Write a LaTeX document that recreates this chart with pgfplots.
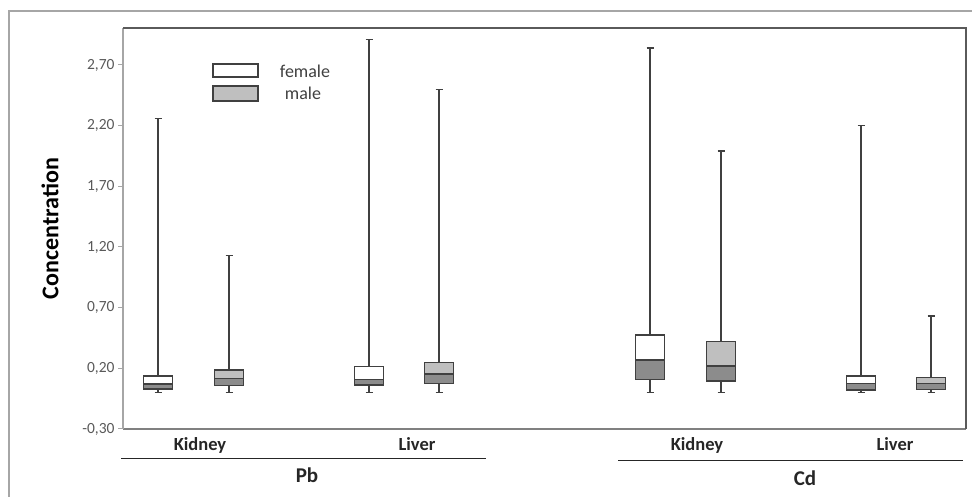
\documentclass[border=0pt]{standalone}
\usepackage{pgfplots}
\pgfplotsset{compat=1.18}
\usepgfplotslibrary{statistics}
\usepackage{fontspec}
\setmainfont{Carlito}
\definecolor{boxline}{HTML}{404040}
\definecolor{lowfill}{HTML}{8C8C8C}
\definecolor{malefill}{HTML}{BFBFBF}
\definecolor{ticklab}{HTML}{595959}
\definecolor{axgray}{HTML}{A6A6A6}
\definecolor{framegray}{HTML}{5A5A5A}
\begin{document}
\begin{tikzpicture}
\path[use as bounding box] (0pt,0pt) rectangle (972pt,497pt);
\draw[color=axgray, line width=1.2pt] (9pt,-5pt) -- (9pt,486pt) -- (980pt,486pt);
\begin{axis}[
  at={(123pt,68pt)}, anchor=south west, scale only axis,
  width=843pt, height=401pt,
  xmin=1.23, xmax=9.66, ymin=-0.3, ymax=3.005,
  axis x line*=bottom, axis y line*=left,
  x axis line style={draw=gray, line width=1.2pt, -},
  y axis line style={draw=axgray, line width=1.2pt, -},
  clip=false,
  ytick={-0.3,0.2,0.7,1.2,1.7,2.2,2.7},
  yticklabel style={/pgf/number format/.cd, fixed, fixed zerofill, precision=2, use comma, assume math mode=true,
    /tikz/.cd, font=\fontsize{15.5}{18}\selectfont, text=ticklab},
  ytick style={draw=axgray, line width=1pt},
  tick align=outside, major tick length=5pt,
  xtick={2.00,4.17,6.97,8.95},
  xticklabels={Kidney,Liver,Kidney,Liver},
  xtick style={draw=none},
  xticklabel style={font=\bfseries\fontsize{18.5}{22}\selectfont, text=black!85},
  ylabel={Concentration},
  ylabel style={at={(axis description cs:-0.0866,0.5)}, anchor=center, font=\bfseries\fontsize{24}{28}\selectfont, text=black},
  boxplot/draw direction=y,
  boxplot/box extend=0.29, boxplot/whisker extend=0.07,
]
% Pb Kidney female
\addplot[boxplot prepared={lower whisker=0, lower quartile=0.03, median=0.07, upper quartile=0.137, upper whisker=2.26, draw position=1.58}, draw=boxline, fill=white, line width=1.4pt, solid] coordinates {};
\addplot[draw=boxline, fill=lowfill, line width=1.4pt] coordinates {(1.435,0.03) (1.725,0.03) (1.725,0.07) (1.435,0.07)} -- cycle;
% Pb Kidney male
\addplot[boxplot prepared={lower whisker=0, lower quartile=0.057, median=0.118, upper quartile=0.186, upper whisker=1.13, draw position=2.29}, draw=boxline, fill=malefill, line width=1.4pt, solid] coordinates {};
\addplot[draw=boxline, fill=lowfill, line width=1.4pt] coordinates {(2.145,0.057) (2.435,0.057) (2.435,0.118) (2.145,0.118)} -- cycle;
% Pb Liver female
\addplot[boxplot prepared={lower whisker=0, lower quartile=0.064, median=0.11, upper quartile=0.214, upper whisker=2.91, draw position=3.69}, draw=boxline, fill=white, line width=1.4pt, solid] coordinates {};
\addplot[draw=boxline, fill=lowfill, line width=1.4pt] coordinates {(3.545,0.064) (3.835,0.064) (3.835,0.11) (3.545,0.11)} -- cycle;
% Pb Liver male
\addplot[boxplot prepared={lower whisker=0, lower quartile=0.077, median=0.153, upper quartile=0.25, upper whisker=2.50, draw position=4.39}, draw=boxline, fill=malefill, line width=1.4pt, solid] coordinates {};
\addplot[draw=boxline, fill=lowfill, line width=1.4pt] coordinates {(4.245,0.077) (4.535,0.077) (4.535,0.153) (4.245,0.153)} -- cycle;
% Cd Kidney female
\addplot[boxplot prepared={lower whisker=0, lower quartile=0.11, median=0.269, upper quartile=0.475, upper whisker=2.84, draw position=6.50}, draw=boxline, fill=white, line width=1.4pt, solid] coordinates {};
\addplot[draw=boxline, fill=lowfill, line width=1.4pt] coordinates {(6.355,0.11) (6.645,0.11) (6.645,0.269) (6.355,0.269)} -- cycle;
% Cd Kidney male
\addplot[boxplot prepared={lower whisker=0, lower quartile=0.096, median=0.219, upper quartile=0.422, upper whisker=1.99, draw position=7.21}, draw=boxline, fill=malefill, line width=1.4pt, solid] coordinates {};
\addplot[draw=boxline, fill=lowfill, line width=1.4pt] coordinates {(7.065,0.096) (7.355,0.096) (7.355,0.219) (7.065,0.219)} -- cycle;
% Cd Liver female
\addplot[boxplot prepared={lower whisker=0, lower quartile=0.022, median=0.077, upper quartile=0.137, upper whisker=2.20, draw position=8.61}, draw=boxline, fill=white, line width=1.4pt, solid] coordinates {};
\addplot[draw=boxline, fill=lowfill, line width=1.4pt] coordinates {(8.465,0.022) (8.755,0.022) (8.755,0.077) (8.465,0.077)} -- cycle;
% Cd Liver male
\addplot[boxplot prepared={lower whisker=0, lower quartile=0.027, median=0.077, upper quartile=0.123, upper whisker=0.63, draw position=9.31}, draw=boxline, fill=malefill, line width=1.4pt, solid] coordinates {};
\addplot[draw=boxline, fill=lowfill, line width=1.4pt] coordinates {(9.165,0.027) (9.455,0.027) (9.455,0.077) (9.165,0.077)} -- cycle;
\draw[framegray, line width=1.2pt] (rel axis cs:0,1) -- (rel axis cs:1,1) -- (rel axis cs:1,0);
\end{axis}
\draw[black!85, line width=1pt] (121pt,38pt) -- (486pt,38pt);
\draw[black!85, line width=1pt] (618pt,36pt) -- (963pt,36pt);
\node[font=\bfseries\fontsize{21}{24}\selectfont, text=black!85] at (307pt,22pt) {Pb};
\node[font=\bfseries\fontsize{21}{24}\selectfont, text=black!85] at (805pt,19pt) {Cd};
\draw[boxline, line width=1.2pt, fill=white] (213pt,420pt) rectangle (258pt,433pt);
\draw[boxline, line width=1.2pt, fill=malefill] (213pt,396pt) rectangle (258pt,411pt);
\node[font=\fontsize{18}{21}\selectfont, text=boxline] at (305pt,426pt) {female};
\node[font=\fontsize{18}{21}\selectfont, text=boxline] at (303pt,404pt) {male};
\end{tikzpicture}
\end{document}
